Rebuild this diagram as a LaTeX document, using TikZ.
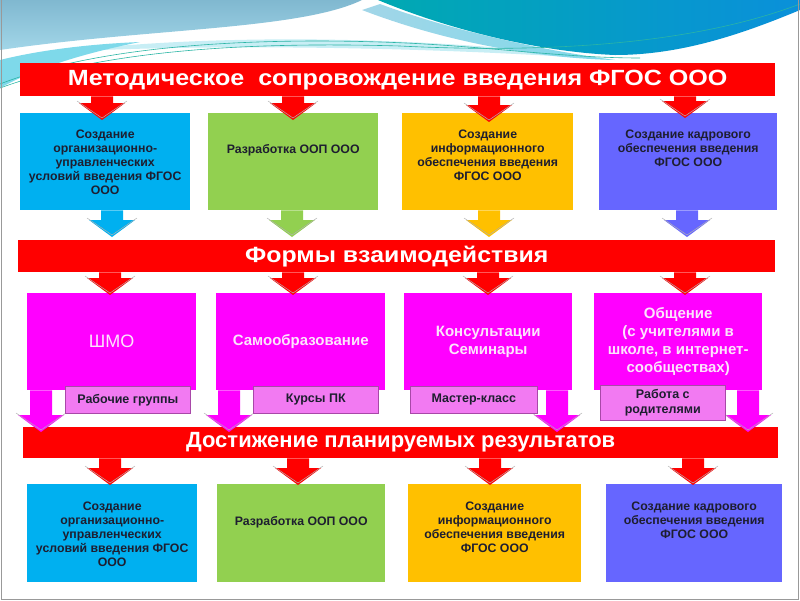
\documentclass[tikz,border=0pt]{standalone}
\usepackage{fontspec}
\setmainfont{Liberation Sans}
\usetikzlibrary{calc,positioning}

\definecolor{bannerred}{HTML}{FF0000}
\definecolor{orgcyan}{HTML}{00B0F0}
\definecolor{oopgreen}{HTML}{92D050}
\definecolor{infogold}{HTML}{FFC000}
\definecolor{staffblue}{HTML}{6666FF}
\definecolor{formpink}{HTML}{FF00FF}
\definecolor{tagpink}{HTML}{F27AF2}
\definecolor{tagedge}{HTML}{A848A8}
\definecolor{inkdark}{HTML}{1E1E30}
\definecolor{paletext}{HTML}{FCE4FC}
\definecolor{skytop}{HTML}{80B8D0}
\definecolor{skybottom}{HTML}{A2D6E8}
\definecolor{wavecyan}{HTML}{7ED9EA}
\definecolor{wavepale}{HTML}{C8EEF5}
\definecolor{waveteal}{HTML}{00A9B2}
\definecolor{waveblue}{HTML}{0A90DA}
\definecolor{waveline}{HTML}{2BB5A5}

\tikzset{
  banner/.style={
    fill=bannerred,anchor=north west,inner sep=0pt,text=white,
    font=\bfseries\fontsize{22}{24}\selectfont,
  },
  panel/.style={
    anchor=north west,inner sep=0pt,minimum height=97pt,
  },
  boxtext/.style={
    anchor=north,align=center,inner sep=0pt,text=inkdark,
    font=\bfseries\fontsize{12.3}{14}\selectfont,
  },
  formtext/.style={
    align=center,text=paletext,
    font=\bfseries\fontsize{15}{18}\selectfont,
  },
  tag/.style={
    anchor=north west,fill=tagpink,draw=tagedge,line width=0.6pt,
    inner sep=0pt,align=center,text=inkdark,minimum width=125pt,
    minimum height=27pt,font=\bfseries\fontsize{12.5}{15}\selectfont,
  },
  arrowrim/.style={draw=black!30,line width=0.5pt},
}

% block arrow: colour, x, from node, to node, tip offset
\newcommand{\blockarr}[5]{%
  \fill[#1] let \p1=(#3.south), \p2=(#4.north) in
    (#2pt-11pt,\y1) -- (#2pt+11pt,\y1) -- (#2pt+11pt,\y2+#5pt+17pt)
    -- (#2pt+23pt,\y2+#5pt+17pt) -- (#2pt,\y2+#5pt)
    -- (#2pt-23pt,\y2+#5pt+17pt) -- (#2pt-11pt,\y2+#5pt+17pt) -- cycle;
  \draw[arrowrim] let \p2=(#4.north) in
    (#2pt-25pt,\y2+#5pt+19pt) -- (#2pt,\y2+#5pt+2pt) -- (#2pt+25pt,\y2+#5pt+19pt);
}

\begin{document}
\begin{tikzpicture}[x=1pt,y=-1pt]
    \useasboundingbox (0,0) rectangle (800,600);

    % waves at the top
    \fill[wavepale] (60,52) .. controls (200,34) and (420,34) .. (615,60)
      .. controls (420,46) and (200,44) .. (60,52) -- cycle;
    \shade[top color=skytop,bottom color=skybottom] (0,0) -- (362,0)
      .. controls (300,30) and (150,28) .. (0,50) -- cycle;
    \fill[wavecyan] (0,60) .. controls (40,50) and (90,44) .. (140,42)
      .. controls (90,52) and (40,66) .. (0,88) -- cycle;
    \shade[left color=skybottom,right color=wavecyan] (362,10) .. controls (440,40) and (530,58) .. (615,60)
      .. controls (540,50) and (450,30) .. (380,4) -- cycle;
    \shade[left color=waveteal,right color=waveblue] (378,0) -- (800,0) -- (800,10)
      .. controls (740,35) and (680,55) .. (615,55) .. controls (540,52) and (450,30) .. (378,0) -- cycle;
    \draw[waveline,line width=0.6pt] (0,84) .. controls (100,45) and (250,38) .. (380,42)
      .. controls (480,45) and (560,58) .. (640,58);
    \draw[waveline,line width=0.6pt] (0,88) .. controls (110,48) and (260,42) .. (400,46)
      .. controls (560,54) and (700,42) .. (800,4);
    \draw[black!40,line width=1pt] (1,0) -- (1,599) -- (798.5,599) -- (798.5,0);

    % banners
    \node[banner,minimum width=755pt,minimum height=33pt] (support) at (20,63)
      {\scalebox{1.14}[1]{Методическое~ сопровождение введения ФГОС ООО}};
    \node[banner,minimum width=757pt,minimum height=32pt] (forms) at (18,240)
      {\scalebox{1.13}[1]{Формы взаимодействия}};
    \node[banner,minimum width=755pt,minimum height=31pt] (results) at (23,427)
      {Достижение планируемых результатов};

    % first row
    \node[panel,fill=orgcyan,minimum width=170pt] (org) at (20,113) {};
    \node[panel,fill=oopgreen,minimum width=170pt] (oop) at (208,113) {};
    \node[panel,fill=infogold,minimum width=171pt] (info) at (402,113) {};
    \node[panel,fill=staffblue,minimum width=178pt] (staff) at (599,113) {};
    \node[boxtext,below=17pt of org.north] (orgt)
      {Создание\\организационно-\\управленческих\\условий введения ФГОС\\ООО};
    \node[boxtext,below=31pt of oop.north] (oopt) {Разработка ООП ООО};
    \node[boxtext,below=17pt of info.north] (infot)
      {Создание\\информационного\\обеспечения введения\\ФГОС ООО};
    \node[boxtext,below=17pt of staff.north] (stafft)
      {Создание кадрового\\обеспечения введения\\ФГОС ООО};

    % forms of work
    \node[panel,fill=formpink,minimum width=169pt,formtext,font=\fontsize{18}{20}\selectfont] (shmo) at (27,293) {ШМО};
    \node[panel,fill=formpink,minimum width=169pt,formtext] (selfedu) at (216,293) {Самообразование};
    \node[panel,fill=formpink,minimum width=168pt,formtext] (consult) at (404,293) {Консультации\\Семинары};
    \node[panel,fill=formpink,minimum width=168pt,formtext] (talk) at (594,293)
      {Общение\\(с учителями в\\школе, в интернет-\\сообществах)};

    % results row
    \node[panel,fill=orgcyan,minimum width=170pt,minimum height=98pt] (org2) at (27,484) {};
    \node[panel,fill=oopgreen,minimum width=168pt,minimum height=98pt] (oop2) at (217,484) {};
    \node[panel,fill=infogold,minimum width=173pt,minimum height=98pt] (info2) at (408,484) {};
    \node[panel,fill=staffblue,minimum width=176pt,minimum height=98pt] (staff2) at (606,484) {};
    \node[boxtext,below=18pt of org2.north] (org2t)
      {Создание\\организационно-\\управленческих\\условий введения ФГОС\\ООО};
    \node[boxtext,below=32pt of oop2.north] (oop2t) {Разработка ООП ООО};
    \node[boxtext,below=18pt of info2.north] (info2t)
      {Создание\\информационного\\обеспечения введения\\ФГОС ООО};
    \node[boxtext,below=18pt of staff2.north] (staff2t)
      {Создание кадрового\\обеспечения введения\\ФГОС ООО};

    % arrows
    \foreach \ax/\dest/\tip in {102/org/-7,293/oop/-7,489/info/-9,685/staff/-5}
      {\blockarr{bannerred}{\ax}{support}{\dest}{\tip}}
    \blockarr{orgcyan}{112}{org}{forms}{3}
    \blockarr{oopgreen}{292}{oop}{forms}{3}
    \blockarr{infogold}{489}{info}{forms}{3}
    \blockarr{staffblue}{687}{staff}{forms}{3}
    \foreach \ax/\dest in {110/shmo,293/selfedu,488/consult,685/talk}
      {\blockarr{bannerred}{\ax}{forms}{\dest}{-2}}
    \foreach \ax/\src in {41/shmo,229/selfedu,557/consult,748/talk}
      {\blockarr{formpink}{\ax}{\src}{results}{-5}}
    \foreach \ax/\dest in {110/org2,298/oop2,490/info2,693/staff2}
      {\blockarr{bannerred}{\ax}{results}{\dest}{-1}}

    % tags under the forms
    \node[tag] (groups) at (65,386) {Рабочие группы};
    \node[tag] (courses) at (253,386) {Курсы ПК};
    \node[tag,minimum width=127pt] (master) at (410,386) {Мастер-класс};
    \node[tag,minimum height=35pt] (parents) at (600,385) {Работа с\\родителями};
\end{tikzpicture}
\end{document}
